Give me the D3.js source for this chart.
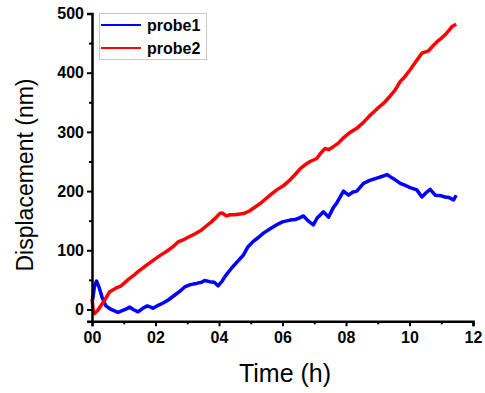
<!DOCTYPE html>
<html><head><meta charset="utf-8">
<script src="https://cdn.jsdelivr.net/npm/d3@7"></script>
<style>body{margin:0;background:#fff}svg{display:block}</style>
</head><body>
<svg id="c" width="485" height="393"></svg>
<script>
const seriesNames = ["probe1", "probe2"];
const colors = ["#0000ff", "#ff0000"];
const xTicks = [0, 2, 4, 6, 8, 10, 12];
const xTickLabels = ["00", "02", "04", "06", "08", "10", "12"];
const yTicks = [0, 100, 200, 300, 400, 500];

const probe1T = [0.02,0.08,0.14,0.22,0.32,0.44,0.6,0.82,0.95,1.05,1.19,1.3,1.45,1.6,1.74,1.85,1.92,2.05,2.24,2.4,2.6,2.75,2.92,3.1,3.29,3.45,3.55,3.7,3.85,3.97,4.1,4.22,4.4,4.6,4.77,4.9,5.08,5.25,5.4,5.6,5.82,6.0,6.24,6.4,6.5,6.66,6.8,6.97,7.1,7.29,7.45,7.6,7.71,7.92,8.08,8.2,8.34,8.55,8.75,8.97,9.15,9.29,9.4,9.55,9.71,9.85,10.02,10.23,10.39,10.5,10.65,10.81,11.0,11.12,11.25,11.39,11.47];
const probe1V = [16,40,48,38,20,6,0,-5,-2,0,4,0,-4,2,6,4,2,6,11,16,24,30,38,42,44,46,49,47,46,40,48,58,70,82,92,105,115,122,129,136,143,148,151,152,154,158,150,143,155,165,156,172,180,200,193,198,200,213,218,222,225,228,224,219,213,210,206,202,190,196,203,193,192,190,189,185,193];

const probe2T = [0.0,0.04,0.08,0.19,0.3,0.4,0.56,0.75,0.92,1.13,1.3,1.45,1.7,1.98,2.2,2.4,2.55,2.71,2.85,3.03,3.25,3.44,3.6,3.76,3.9,4.02,4.1,4.23,4.35,4.5,4.77,4.95,5.08,5.3,5.5,5.65,5.82,6.05,6.24,6.4,6.56,6.7,6.87,7.08,7.2,7.34,7.45,7.6,7.76,7.92,8.1,8.34,8.55,8.76,9.0,9.18,9.35,9.55,9.65,9.71,9.85,10.02,10.23,10.39,10.6,10.75,10.86,11.0,11.12,11.25,11.34,11.47];
const probe2V = [18,-2,-7,-1,8,16,30,36,40,50,57,64,74,85,93,100,106,114,117,122,128,134,141,148,155,162,163,158,160,160,162,166,171,179,188,195,202,210,219,228,238,244,250,255,264,272,270,275,281,290,298,306,316,328,340,348,358,371,380,385,393,405,421,433,437,446,452,458,464,472,478,482];

const svg = d3.select("#c");
const x = d3.scaleLinear().domain([0, 12]).range([92, 473]);
const y = d3.scaleLinear().domain([-20, 500]).range([321.3, 13.5]);

const series = [
  probe1T.map((t, i) => [t, probe1V[i]]),
  probe2T.map((t, i) => [t, probe2V[i]])
];
const line = d3.line().x(d => x(d[0])).y(d => y(d[1]));

series.forEach((s, i) => {
  svg.append("path").attr("d", line(s)).attr("fill", "none")
    .attr("stroke", colors[i]).attr("stroke-width", 3.5)
    .attr("stroke-linejoin", "round");
});

// axes
const xAxis = d3.axisBottom(x).tickValues(xTicks).tickFormat((d, i) => xTickLabels[i]).tickSize(5).tickPadding(5);
const gx = svg.append("g").attr("transform", "translate(0,321.3)").call(xAxis);
const yAxis = d3.axisLeft(y).tickValues(yTicks).tickSize(5).tickPadding(3);
const gy = svg.append("g").attr("transform", "translate(92,0)").call(yAxis);
[gx, gy].forEach(g => {
  g.select(".domain").attr("stroke", "#000").attr("stroke-width", 2.5);
  g.selectAll(".tick line").attr("stroke", "#000").attr("stroke-width", 2);
  g.selectAll("text").attr("font-family", "Liberation Sans, Arial, sans-serif")
    .attr("font-weight", "bold").attr("font-size", 16).attr("fill", "#000");
});
// minor ticks
const xMinor = d3.axisBottom(x).tickValues([1,3,5,7,9,11]).tickSize(3).tickFormat("");
const gxm = svg.append("g").attr("transform", "translate(0,321.3)").call(xMinor);
const yMinor = d3.axisLeft(y).tickValues([50,150,250,350,450]).tickSize(3).tickFormat("");
const gym = svg.append("g").attr("transform", "translate(92,0)").call(yMinor);
[gxm, gym].forEach(g => {
  g.select(".domain").remove();
  g.selectAll(".tick line").attr("stroke", "#000").attr("stroke-width", 2);
});

// axis titles
svg.append("text").attr("x", 285).attr("y", 382).attr("text-anchor", "middle")
  .attr("font-family", "Liberation Sans, Arial, sans-serif").attr("font-size", 25).text("Time (h)");
svg.append("text").attr("transform", "translate(33,175) rotate(-90)").attr("text-anchor", "middle")
  .attr("font-family", "Liberation Sans, Arial, sans-serif").attr("font-size", 23).text("Displacement (nm)");

// legend
const lg = svg.append("g");
lg.append("rect").attr("x", 99.5).attr("y", 13.5).attr("width", 107).attr("height", 46)
  .attr("fill", "#fff").attr("stroke", "#c8c8c8").attr("stroke-width", 1);
seriesNames.forEach((n, i) => {
  const yy = 25 + i * 23;
  lg.append("line").attr("x1", 101).attr("x2", 141).attr("y1", yy).attr("y2", yy)
    .attr("stroke", colors[i]).attr("stroke-width", 2);
  lg.append("text").attr("x", 147).attr("y", yy + 6).attr("font-family", "Liberation Sans, Arial, sans-serif")
    .attr("font-weight", "bold").attr("font-size", 16).text(n);
});
</script>
</body></html>
